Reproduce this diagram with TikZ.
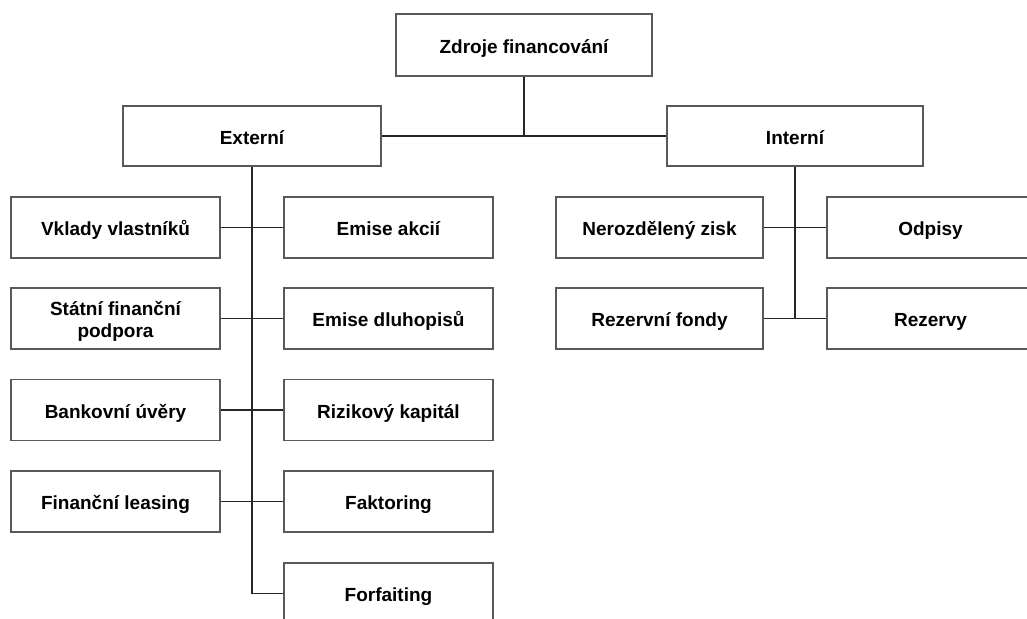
\documentclass[tikz,border=0pt]{standalone}
\usepackage{fontspec}
\setmainfont{Liberation Sans}
\begin{document}
\begin{tikzpicture}[x=1pt, y=-1pt,
    box/.style={draw=black!65, line width=1.5pt, fill=white, inner sep=0pt,
        align=center, minimum width=209, minimum height=61,
        text height=17pt, text depth=0.5pt,
        font=\bfseries\fontsize{19}{22}\selectfont},
    link/.style={draw=black!85, line width=1.5pt}]
    \useasboundingbox (0,0) rectangle (1027,618);
    \clip (0,0) rectangle (1027,618);

    % 顶层
    \node[box, minimum width=256, minimum height=62] (zdroje) at (524,45) {Zdroje financování};
    \node[box, minimum width=258, minimum height=60] (ext) at (252,136) {Externí};
    \node[box, minimum width=256, minimum height=60] (int) at (795,136) {Interní};

    % 外部来源
    \node[box] (vklady) at (115.5,227.5) {Vklady vlastníků};
    \node[box, text height=, text depth=] (podpora) at (115.5,318.5) {\rule{0pt}{19pt}Státní finanční\\podpora};
    \node[box] (uvery) at (115.5,410) {Bankovní úvěry};
    \node[box] (leasing) at (115.5,501.5) {Finanční leasing};
    \node[box] (akcie) at (388.5,227.5) {Emise akcií};
    \node[box] (dluhopisy) at (388.5,318.5) {Emise dluhopisů};
    \node[box] (kapital) at (388.5,410) {Rizikový kapitál};
    \node[box] (faktoring) at (388.5,501.5) {Faktoring};
    \node[box] (forfaiting) at (388.5,593.5) {Forfaiting};

    % 内部来源
    \node[box, minimum width=207] (zisk) at (659.5,227.5) {Nerozdělený zisk};
    \node[box, minimum width=207] (fondy) at (659.5,318.5) {Rezervní fondy};
    \node[box, minimum width=207] (odpisy) at (930.5,227.5) {Odpisy};
    \node[box, minimum width=207] (rezervy) at (930.5,318.5) {Rezervy};

    % 连线
    \draw[link] (zdroje.south) |- (ext.east);
    \draw[link] (zdroje.south) |- (int.west);
    \draw[link] (ext.south) |- (forfaiting.west);
    \draw[link] (vklady.east) -- (akcie.west);
    \draw[link] (podpora.east) -- (dluhopisy.west);
    \draw[link] (uvery.east) -- (kapital.west);
    \draw[link] (leasing.east) -- (faktoring.west);
    \draw[link] (int.south) |- (rezervy.west);
    \draw[link] (zisk.east) -- (odpisy.west);
    \draw[link] (fondy.east) -- (rezervy.west);
\end{tikzpicture}
\end{document}
